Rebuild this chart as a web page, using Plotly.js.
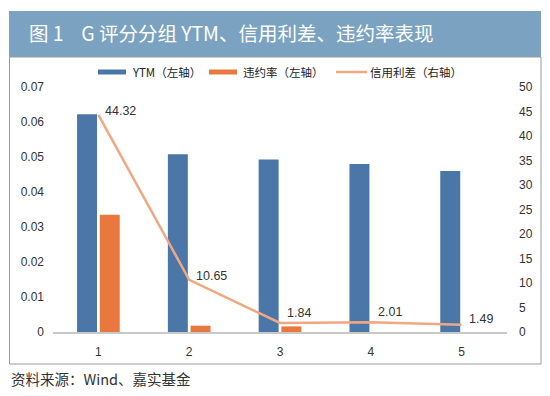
<!DOCTYPE html>
<html>
<head>
<meta charset="utf-8">
<script src="https://cdn.plot.ly/plotly-3.0.1.min.js"></script>
<style>html,body{margin:0;padding:0;background:#fff;}#chart{width:550px;height:396px;}</style>
</head>
<body>
<div id="chart"></div>
<script>
// ---- data ----
const categories = ['1', '2', '3', '4', '5'];
const ytm = [0.0622, 0.0508, 0.0493, 0.0480, 0.0460];
const defaultRate = [0.0335, 0.0018, 0.0016, 0, 0];
const creditSpread = [44.32, 10.65, 1.84, 2.01, 1.49];
const spreadLabels = ['44.32', '10.65', '1.84', '2.01', '1.49'];
const seriesNames = ['YTM（左轴）', '违约率（左轴）', '信用利差（右轴）'];
const titleText = '图\u00a01\u00a0\u00a0\u00a0\u00a0G 评分分组 YTM、信用利差、违约率表现';
const sourceText = '资料来源：Wind、嘉实基金';

// ---- styles ----
const BLUE = '#4b77a8', ORANGE = '#e9783e', SALMON = '#f0a882';
const FONT = 'Liberation Sans, Arial, Noto Sans CJK SC, sans-serif';
const CJK = 'Noto Sans CJK SC, sans-serif';
const W = 550, H = 396;
const PL = 53, PR = 507, PT = 87, PB = 332;
const px = v => (v - PL) / (PR - PL);
const py = v => (PB - v) / (PB - PT);
const labelShift = [4, 4, 10, 10, 6];

const traces = [
  {type: 'bar', x: categories, y: ytm, name: seriesNames[0], marker: {color: BLUE}, yaxis: 'y', showlegend: false, hoverinfo: 'skip'},
  {type: 'bar', x: categories, y: defaultRate, name: seriesNames[1], marker: {color: ORANGE}, yaxis: 'y', showlegend: false, hoverinfo: 'skip'},
  {type: 'scatter', mode: 'lines', x: categories, y: creditSpread, name: seriesNames[2], line: {color: SALMON, width: 2.5}, yaxis: 'y2', showlegend: false, hoverinfo: 'skip'}
];

const shapes = [
  // banner
  {type: 'rect', xref: 'paper', yref: 'paper', x0: px(9), x1: px(541), y0: py(57), y1: py(11), fillcolor: '#7ba3c1', line: {width: 0}, layer: 'below'},
  // frame
  {type: 'rect', xref: 'paper', yref: 'paper', x0: px(9.5), x1: px(541), y0: py(364), y1: py(57), fillcolor: 'rgba(0,0,0,0)', line: {color: '#9a9a9a', width: 1}, layer: 'below'},
  // legend symbols
  {type: 'rect', xref: 'paper', yref: 'paper', x0: px(98), x1: px(126), y0: py(74.5), y1: py(69.5), fillcolor: BLUE, line: {width: 0}},
  {type: 'rect', xref: 'paper', yref: 'paper', x0: px(209), x1: px(237), y0: py(74.5), y1: py(69.5), fillcolor: ORANGE, line: {width: 0}},
  {type: 'line', xref: 'paper', yref: 'paper', x0: px(336), x1: px(367), y0: py(72), y1: py(72), line: {color: SALMON, width: 2.5}}
];

const legendFont = {family: CJK, size: 11.5, color: '#222'};
const annotations = [
  {xref: 'paper', yref: 'paper', x: px(130), y: py(72), xanchor: 'left', yanchor: 'middle', text: seriesNames[0], showarrow: false, font: legendFont},
  {xref: 'paper', yref: 'paper', x: px(241), y: py(72), xanchor: 'left', yanchor: 'middle', text: seriesNames[1], showarrow: false, font: legendFont},
  {xref: 'paper', yref: 'paper', x: px(368), y: py(72), xanchor: 'left', yanchor: 'middle', text: seriesNames[2], showarrow: false, font: legendFont},
  {xref: 'paper', yref: 'paper', x: px(9), y: py(378), xanchor: 'left', yanchor: 'middle', text: sourceText, showarrow: false, font: {family: CJK, size: 14.5, color: '#333'}}
];
categories.forEach((c, i) => {
  annotations.push({xref: 'x', yref: 'y2', x: i, y: creditSpread[i], text: spreadLabels[i], showarrow: false,
    xanchor: 'left', yanchor: 'middle', xshift: 5, yshift: labelShift[i], font: {family: FONT, size: 12.5, color: '#333'}});
});

const layout = {
  width: W, height: H,
  margin: {l: PL, r: W - PR, t: PT, b: H - PB, pad: 0},
  paper_bgcolor: '#fff', plot_bgcolor: 'rgba(0,0,0,0)',
  title: {text: titleText, x: 29 / W, xanchor: 'left', xref: 'container', y: 1 - 34 / H, yref: 'container', yanchor: 'middle',
    font: {family: CJK, size: 19.5, color: '#ffffff'}},
  barmode: 'group', bargap: 0.5, bargroupgap: 0.12,
  xaxis: {type: 'category', range: [-0.5, 4.5], showgrid: false, zeroline: false, showline: true, linecolor: '#c9c9c9', linewidth: 2,
    ticks: '', ticklabelstandoff: 8, tickfont: {family: FONT, size: 12, color: '#333'}},
  yaxis: {range: [0, 0.07], dtick: 0.01, showgrid: false, zeroline: false, showline: false, ticks: '',
    ticklabelstandoff: 8, tickfont: {family: FONT, size: 12, color: '#333'}},
  yaxis2: {range: [0, 50], dtick: 5, overlaying: 'y', side: 'right', showgrid: false, zeroline: false, showline: false, ticks: '',
    ticklabelstandoff: 11, tickfont: {family: FONT, size: 12, color: '#333'}},
  shapes: shapes,
  annotations: annotations,
  showlegend: false
};

Plotly.newPlot('chart', traces, layout, {displayModeBar: false, staticPlot: true});
</script>
</body>
</html>
